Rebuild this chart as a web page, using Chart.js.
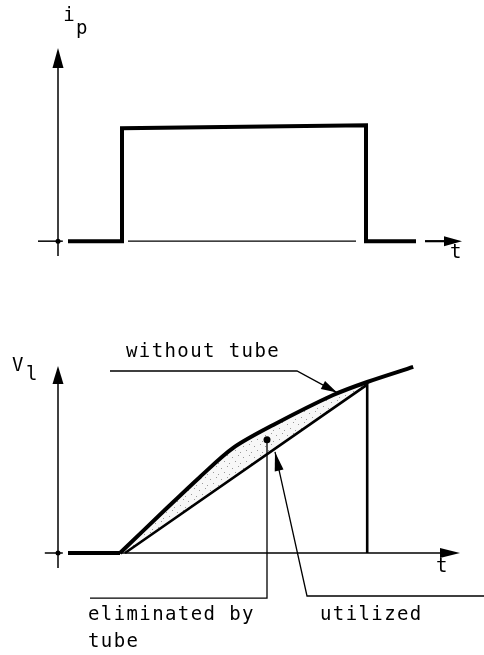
<!DOCTYPE html>
<html><head><meta charset="utf-8">
<script src="https://cdn.jsdelivr.net/npm/chart.js@4.4.1/dist/chart.umd.min.js"></script>
<style>html,body{margin:0;padding:0;background:#fff;overflow:hidden}canvas{display:block}</style>
</head><body>
<canvas id="top" width="484" height="290"></canvas>
<canvas id="bot" width="484" height="365"></canvas>
<script>
// ---- data (time t in arbitrary units, i_p and V_l normalised) ----
const pulseT = [0.25, 1.6, 1.6, 7.7, 7.7, 8.95];
const pulseI = [0, 0, 0.99, 1.015, 0, 0];
const pulseAxisT = [1.75, 7.45];
const preRiseT = [0.25, 1.55];
const preRiseV = [0, 0];
const withoutT = [1.55, 2.73, 3.55, 4.38, 5.38, 6.88, 7.73, 8.88];
const withoutV = [0, 0.243, 0.409, 0.565, 0.688, 0.849, 0.919, 1.0];
const utilizedT = [1.675, 7.73, 7.73];
const utilizedV = [0, 0.905, 0];
const topLabels = ['i', 'p', 't'];
const botLabels = ['V', 'l', 't'];
const annotationTexts = ['without tube', 'eliminated by', 'tube', 'utilized'];
// annotation anchors (data units of the lower chart)
const withoutLeaderT = [1.3, 5.975, 6.975];
const withoutLeaderV = [0.978, 0.978, 0.862];
const elimLeaderT = [0.8, 5.225, 5.225];
const elimLeaderV = [-0.242, -0.242, 0.608];
const utilLeaderT = [10.65, 6.225, 5.425];
const utilLeaderV = [-0.231, -0.231, 0.543];

const zip = (xs, ys) => xs.map((x, i) => ({x, y: ys[i]}));
const FONT = '19px "DejaVu Sans Mono"';

function arrowHead(ctx, tx, ty, fx, fy, len, half) {
  const a = Math.atan2(ty - fy, tx - fx);
  const bx = tx - len * Math.cos(a), by = ty - len * Math.sin(a);
  const nx = -Math.sin(a) * half, ny = Math.cos(a) * half;
  ctx.beginPath();
  ctx.moveTo(tx, ty);
  ctx.lineTo(bx + nx, by + ny);
  ctx.lineTo(bx - nx, by - ny);
  ctx.closePath();
  ctx.fill();
}
function seg(ctx, pts, w) {
  ctx.lineWidth = w;
  ctx.beginPath();
  pts.forEach((p, i) => i ? ctx.lineTo(p[0], p[1]) : ctx.moveTo(p[0], p[1]));
  ctx.stroke();
}
function text(ctx, s, x, y) {
  ctx.font = FONT;
  try { ctx.letterSpacing = '1.4px'; } catch (e) {}
  ctx.textAlign = 'left';
  ctx.textBaseline = 'alphabetic';
  ctx.fillText(s, x, y);
  try { ctx.letterSpacing = '0px'; } catch (e) {}
}

const topPlugin = {
  id: 'topDeco',
  afterDatasetsDraw(c) {
    const ctx = c.ctx, X = v => c.scales.x.getPixelForValue(v), Y = v => c.scales.y.getPixelForValue(v);
    ctx.save();
    ctx.strokeStyle = '#000'; ctx.fillStyle = '#000'; ctx.lineCap = 'butt';
    seg(ctx, [[X(0), Y(-0.13)], [X(0), Y(1.6)]], 1.5);
    arrowHead(ctx, X(0), Y(1.693), X(0), Y(0), 20, 5.5);
    seg(ctx, [[X(-0.5), Y(0)], [X(0.12), Y(0)]], 1.5);
    ctx.beginPath(); ctx.arc(X(0), Y(0), 2.5, 0, Math.PI * 2); ctx.fill();
    seg(ctx, [[X(9.175), Y(0)], [X(9.7), Y(0)]], 2.2);
    arrowHead(ctx, X(10.1), Y(0), X(9), Y(0), 18, 5);
    text(ctx, topLabels[0], X(0.13), Y(1.93));
    text(ctx, topLabels[1], X(0.45), Y(1.816));
    text(ctx, topLabels[2], X(9.8), Y(-0.149));
    ctx.restore();
  }
};

new Chart(document.getElementById('top'), {
  type: 'scatter',
  data: {
    datasets: [
      { data: zip(pulseT, pulseI), showLine: true, borderColor: '#000', borderWidth: 4,
        pointRadius: 0, tension: 0, borderJoinStyle: 'miter', clip: false },
      { data: zip(pulseAxisT, [0, 0]), showLine: true, borderColor: '#000', borderWidth: 1.4,
        pointRadius: 0, tension: 0, clip: false }
    ]
  },
  options: {
    responsive: false, animation: false, events: [],
    layout: { padding: { left: 58, right: 22, top: 48, bottom: 34 } },
    plugins: { legend: { display: false }, tooltip: { enabled: false } },
    scales: {
      x: { type: 'linear', min: 0, max: 10.1, display: false },
      y: { type: 'linear', min: -0.13, max: 1.693, display: false }
    }
  },
  plugins: [topPlugin]
});

// sparse stipple pattern for the shaded region
function stipple() {
  const p = document.createElement('canvas');
  p.width = 11; p.height = 11;
  const g = p.getContext('2d');
  g.fillStyle = 'rgba(0,0,0,0.03)'; g.fillRect(0, 0, 11, 11);
  g.fillStyle = '#9a9a9a';
  [[1, 2], [7, 0], [4, 6], [9, 8]].forEach(([x, y]) => g.fillRect(x, y, 1, 1));
  return g.createPattern(p, 'repeat');
}

const botPlugin = {
  id: 'botDeco',
  afterDatasetsDraw(c) {
    const ctx = c.ctx, X = v => c.scales.x.getPixelForValue(v), Y = v => c.scales.y.getPixelForValue(v);
    // shaded gap between the "without tube" curve and the utilized line, painted behind
    const upperLine = c.getDatasetMeta(1).dataset;
    ctx.save();
    ctx.beginPath();
    ctx.rect(X(withoutT[0]), 0, X(utilizedT[1]) - X(withoutT[0]), c.height);
    ctx.clip();
    ctx.beginPath();
    upperLine.path(ctx);
    ctx.lineTo(X(utilizedT[1]), Y(utilizedV[1]));
    ctx.lineTo(X(utilizedT[0]), Y(utilizedV[0]));
    ctx.closePath();
    ctx.globalCompositeOperation = 'destination-over';
    ctx.fillStyle = stipple();
    ctx.fill();
    ctx.restore();

    ctx.save();
    ctx.strokeStyle = '#000'; ctx.fillStyle = '#000'; ctx.lineCap = 'butt';
    seg(ctx, [[X(0), Y(-0.08)], [X(0), Y(0.95)]], 1.5);
    arrowHead(ctx, X(0), Y(1.005), X(0), Y(0), 18, 5.5);
    seg(ctx, [[X(-0.33), Y(0)], [X(0.12), Y(0)]], 1.5);
    ctx.beginPath(); ctx.arc(X(0), Y(0), 2.5, 0, Math.PI * 2); ctx.fill();
    seg(ctx, [[X(1.55), Y(0)], [X(9.6), Y(0)]], 1.5);
    arrowHead(ctx, X(10.05), Y(0), X(9), Y(0), 20, 5);
    // leader: without tube
    const wl = withoutLeaderT.map((t, i) => [X(t), Y(withoutLeaderV[i])]);
    seg(ctx, wl, 1.3);
    arrowHead(ctx, wl[2][0], wl[2][1], wl[1][0], wl[1][1], 16, 4.5);
    // leader: eliminated by tube
    const el = elimLeaderT.map((t, i) => [X(t), Y(elimLeaderV[i])]);
    seg(ctx, el, 1.3);
    ctx.beginPath(); ctx.arc(el[2][0], el[2][1], 3.5, 0, Math.PI * 2); ctx.fill();
    // leader: utilized
    const ul = utilLeaderT.map((t, i) => [X(t), Y(utilLeaderV[i])]);
    seg(ctx, ul, 1.3);
    arrowHead(ctx, ul[2][0], ul[2][1], ul[1][0], ul[1][1], 19, 4.5);
    // labels
    text(ctx, botLabels[0], X(-1.15), Y(0.978));
    text(ctx, botLabels[1], X(-0.8), Y(0.93));
    text(ctx, botLabels[2], X(9.45), Y(-0.102));
    text(ctx, annotationTexts[0], X(1.7), Y(1.054));
    text(ctx, annotationTexts[1], X(0.75), Y(-0.36));
    text(ctx, annotationTexts[2], X(0.75), Y(-0.505));
    text(ctx, annotationTexts[3], X(6.55), Y(-0.36));
    ctx.restore();
  }
};

new Chart(document.getElementById('bot'), {
  type: 'scatter',
  data: {
    datasets: [
      { data: zip(preRiseT, preRiseV), showLine: true, borderColor: '#000', borderWidth: 4,
        pointRadius: 0, tension: 0, clip: false },
      { data: zip(withoutT, withoutV), showLine: true, borderColor: '#000', borderWidth: 4,
        pointRadius: 0, tension: 0.3, borderJoinStyle: 'round', clip: false },
      { data: zip(utilizedT, utilizedV), showLine: true, borderColor: '#000', borderWidth: 2.6,
        pointRadius: 0, tension: 0, borderJoinStyle: 'miter', clip: false }
    ]
  },
  options: {
    responsive: false, animation: false, events: [],
    layout: { padding: { left: 58, right: 22, top: 76, bottom: 87 } },
    plugins: { legend: { display: false }, tooltip: { enabled: false } },
    scales: {
      x: { type: 'linear', min: 0, max: 10.1, display: false },
      y: { type: 'linear', min: -0.0806, max: 1.005, display: false }
    }
  },
  plugins: [botPlugin]
});
</script>
</body></html>
